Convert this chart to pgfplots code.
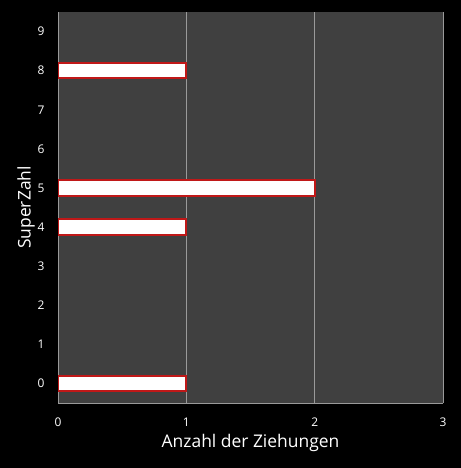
\documentclass[border=0pt]{standalone}
\usepackage{pgfplots}
\pgfplotsset{compat=1.18}
\usepackage{fontspec}
\setmainfont{Open Sans}
\definecolor{plotbg}{HTML}{404040}
\definecolor{gridgray}{HTML}{9A9A9A}
\definecolor{barred}{HTML}{C01818}
\begin{document}
\begin{tikzpicture}[x=1bp,y=1bp]
\fill[black] (0,0) rectangle (461,468);
\useasboundingbox (0,0) rectangle (461,468);
\begin{axis}[
  at={(58bp,65bp)}, anchor=south west,
  scale only axis,
  width=385bp, height=391bp,
  xbar, bar width=15.5bp,
  xmin=0, xmax=3,
  ymin=-0.5, ymax=9.5,
  xtick={0,1,2,3}, ytick={0,...,9},
  major tick length=0pt,
  axis background/.style={fill=plotbg},
  axis line style={draw=gridgray, line width=0.6bp},
  axis x line*=bottom, axis y line*=left,
  xmajorgrids, grid style={draw=gridgray, line width=0.6bp},
  tick label style={font=\fontsize{12}{14}\selectfont, text=white},
  /pgf/number format/assume math mode=true,
  xticklabel style={yshift=-11bp},
  yticklabel style={xshift=-10bp},
  xlabel={Anzahl der Ziehungen},
  ylabel={SuperZahl},
  label style={font=\fontsize{17.5}{20}\selectfont, text=white},
  xlabel style={yshift=-1bp},
  ylabel style={yshift=-4bp},
]
\addplot[fill=white, draw=barred, line width=2bp] coordinates {
  (1,0) (1,4) (2,5) (1,8)
};
\end{axis}
\end{tikzpicture}
\end{document}
